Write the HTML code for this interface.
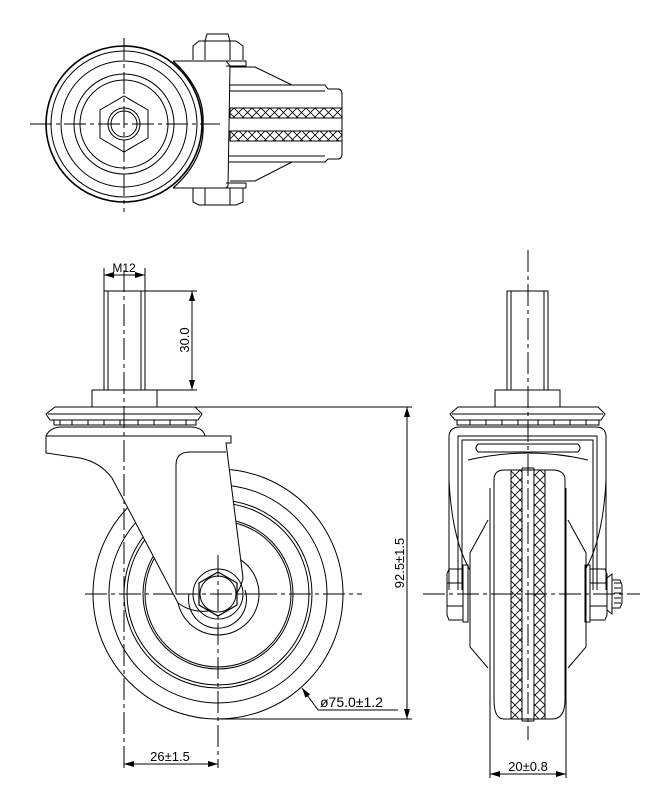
<!DOCTYPE html>
<html><head><meta charset="utf-8"><style>
html,body{margin:0;padding:0;background:#fff;}
svg{display:block}
text{font-family:"Liberation Sans","Noto Sans CJK SC",sans-serif;fill:#000}
</style></head><body>
<svg width="661" height="792" viewBox="0 0 661 792" xmlns="http://www.w3.org/2000/svg">
<defs>
<pattern id="hx" width="9" height="9" patternUnits="userSpaceOnUse">
<path d="M0,0L9,9M9,0L0,9" stroke="#000" stroke-width="0.8"/>
</pattern>
<pattern id="hy" width="10" height="10" patternUnits="userSpaceOnUse">
<path d="M0,0L10,10M10,0L0,10" stroke="#000" stroke-width="0.8"/>
</pattern>
<marker id="ar" markerWidth="10" markerHeight="6" refX="10" refY="3" orient="auto" markerUnits="userSpaceOnUse">
<path d="M0,0L10,3L0,6z" fill="#000"/></marker>
<marker id="al" markerWidth="10" markerHeight="6" refX="0" refY="3" orient="auto" markerUnits="userSpaceOnUse">
<path d="M10,0L0,3L10,6z" fill="#000"/></marker>
</defs>
<g fill="none" stroke="#000" stroke-width="1">
<!-- ============ TOP VIEW ============ -->
<circle cx="124" cy="124" r="78" stroke-width="1.6"/>
<circle cx="124" cy="124" r="73"/>
<circle cx="124" cy="124" r="63"/>
<circle cx="124" cy="124" r="50"/>
<circle cx="124" cy="124" r="44"/>
<polygon points="124,96 148,110 148,138 124,152 100,138 100,110"/>
<circle cx="124" cy="124" r="16"/>
<circle cx="124" cy="124" r="13"/>
<path d="M173,61 L226,61 L230,66 L228,186 L226,188 L173,188"/>
<path d="M173,61 Q205,90 203,124 Q205,160 173,188" stroke-width="1.2"/>
<path d="M226,61 L246,61 L246,66 L226,66"/>
<path d="M226,188 L246,188 L246,183 L226,183"/>
<path d="M230,67 L255,67 L292,85"/>
<path d="M230,181 L255,181 L292,162"/>
<path d="M193,60 L193,46 L199,41 L236,41 L243,46 L243,60"/>
<path d="M205,41 L205,60 M230,41 L230,60"/>
<path d="M205,41 L207,34 L228,34 L230,41"/>
<path d="M193,188 L193,202 L199,205 L236,205 L243,202 L243,188"/>
<path d="M205,188 L205,205 M230,188 L230,205"/>
<path d="M229,85 L325,85 L328,89 L338,89 Q342,89 342,95 L342,153 Q342,159 338,159 L328,159 L325,162 L229,162"/>
<path d="M229,91 L325,91 M229,156 L325,156"/>
<rect x="230" y="108" width="112" height="10" fill="url(#hx)"/>
<rect x="230" y="131" width="112" height="10" fill="url(#hx)"/>
<path d="M230,108 L342,108 M230,118 L342,118 M230,131 L342,131 M230,141 L342,141"/>
<path d="M30,124 L220,124" stroke-dasharray="22,4,4,4"/>
<path d="M124,38 L124,212" stroke-dasharray="22,4,4,4"/>

<!-- ============ SIDE VIEW ============ -->
<rect x="104" y="291" width="41" height="99"/>
<path d="M108,291 L108,390 M141,291 L141,390"/>
<rect x="92" y="390" width="65" height="17"/>
<path d="M55,407 L195,407 L202,414 L198,420 L50,420 L46,414 Z"/>
<path d="M48,414 L200,414"/>
<path d="M54,420 L54,425 L196,425 L196,420"/>
<path d="M60,420v5M72,420v5M88,420v5M104,420v5M120,420v5M138,420v5M154,420v5M170,420v5M186,420v5"/>
<path d="M46,436 Q50,427 62,427 L190,427 Q203,427 205,436"/>
<!-- wheel -->
<circle cx="218" cy="594" r="125"/>
<circle cx="218" cy="594" r="109"/>
<circle cx="218" cy="594" r="94"/>
<circle cx="218" cy="594" r="91"/>
<circle cx="218" cy="594" r="75"/>
<circle cx="218" cy="594" r="73"/>
<circle cx="218" cy="594" r="41"/>
<!-- side centerlines (under bracket) -->
<path d="M85,594 L362,594" stroke-dasharray="22,4,4,4"/>
<!-- bracket (occludes wheel) -->
<path d="M46,436 L231,436 L231,443 L226,443 L243,578 A41,41 0 0,1 178,603 L112,478 Q100,462 80,458 L46,453 Z" fill="#fff"/>
<path d="M176,594 L176,465 Q176,452 190,452 L226,452"/>
<path d="M245,590 A29,29 0 1,1 189,594"/>
<circle cx="218" cy="594" r="25"/>
<polygon points="218,572 237,583 237,605 218,616 199,605 199,583" stroke-width="1.2" fill="#fff"/>
<circle cx="218" cy="594" r="18"/>
<path d="M176,594 L260,594" stroke-dasharray="22,4,4,4"/>
<path d="M218,555 L218,768" stroke-dasharray="22,4,4,4"/>
<path d="M124,270 L124,768" stroke-dasharray="22,4,4,4"/>
<!-- dims -->
<path d="M104,268 L104,291 M145,268 L145,291"/>
<path d="M104,275 L145,275" marker-start="url(#al)" marker-end="url(#ar)"/>
<path d="M145,291 L197,291 M157,390 L197,390"/>
<path d="M192,291 L192,390" marker-start="url(#al)" marker-end="url(#ar)"/>
<path d="M158,407 L412,407 M218,719 L412,719"/>
<path d="M407,407 L407,719" marker-start="url(#al)" marker-end="url(#ar)"/>
<path d="M124,764 L218,764" marker-start="url(#al)" marker-end="url(#ar)"/>
<path d="M318,710 L302,688" marker-end="url(#ar)"/>
<path d="M318,710 L398,710"/>

<!-- ============ FRONT VIEW ============ -->
<rect x="507" y="291" width="41" height="99"/>
<path d="M511,291 L511,390 M544,291 L544,390"/>
<rect x="495" y="390" width="65" height="17"/>
<path d="M458,407 L598,407 L605,414 L601,420 L455,420 L450,414 Z"/>
<path d="M452,414 L603,414"/>
<path d="M457,420 L457,425 L599,425 L599,420"/>
<path d="M470,420v5M486,420v5M502,420v5M518,420v5M538,420v5M554,420v5M570,420v5M586,420v5"/>
<path d="M449,590 L449,437 Q449,427 460,427 L596,427 Q606,427 606,437 L606,590"/>
<path d="M458,590 L458,436 L597,436 L597,590"/>
<path d="M462,590 L462,440 L593,440 L593,590"/>
<path d="M478,444 L578,444 Q582,448 578,452 L478,452 Q474,448 478,444 Z"/>
<path d="M468,460 Q528,446 588,460"/>
<path d="M449,480 Q452,540 470,570 M606,480 Q603,540 585,570"/>
<path d="M488,520 L470,553 L470,647 L488,668"/>
<path d="M568,520 L586,553 L586,647 L568,668"/>
<path d="M490,488 L490,700 M566,488 L566,700"/>
<path d="M494,700 L494,480 Q494,470 504,470 L552,470 Q565,470 565,480 L565,700 Q565,719 552,719 L504,719 Q494,719 494,700 Z"/>
<rect x="511" y="470" width="11" height="249" fill="url(#hy)"/>
<rect x="534" y="470" width="11" height="249" fill="url(#hy)"/>
<path d="M511,470 L511,719 M522,468 L522,721 M534,468 L534,721 M545,470 L545,719"/>
<path d="M522,468 L534,468 M522,721 L534,721"/>
<path d="M463,569 L449,569 L447,574 L447,615 L449,620 L463,620 Z"/>
<path d="M447,583 L463,583 M447,606 L463,606"/>
<rect x="463" y="565" width="5" height="57"/>
<rect x="585" y="565" width="5" height="57"/>
<path d="M590,569 L605,569 L607,574 L607,615 L605,620 L590,620 Z"/>
<path d="M590,583 L607,583 M590,606 L607,606"/>
<path d="M607,578 L612,574 L612,614 L607,610"/>
<path d="M612,580 L620,580 L622,585 L622,603 L620,608 L612,608"/>
<path d="M614,583h7M614,588h7M614,593h7M614,598h7M614,603h7"/>
<path d="M423,594 L640,594" stroke-dasharray="22,4,4,4"/>
<path d="M528,250 L528,740" stroke-dasharray="22,4,4,4"/>
<path d="M490,700 L490,778 M566,700 L566,778"/>
<path d="M490,774 L566,774" marker-start="url(#al)" marker-end="url(#ar)"/>
</g>
<text x="124" y="272" font-size="12" text-anchor="middle">M12</text>
<text transform="translate(189,340) rotate(-90)" font-size="13" text-anchor="middle">30.0</text>
<text transform="translate(404,563) rotate(-90)" font-size="13" text-anchor="middle">92.5±1.5</text>
<text x="170" y="761" font-size="13" text-anchor="middle">26±1.5</text>
<text x="320" y="707" font-size="14">ø75.0±1.2</text>
<text x="528" y="771" font-size="13" text-anchor="middle">20±0.8</text>
</svg>
</body></html>
